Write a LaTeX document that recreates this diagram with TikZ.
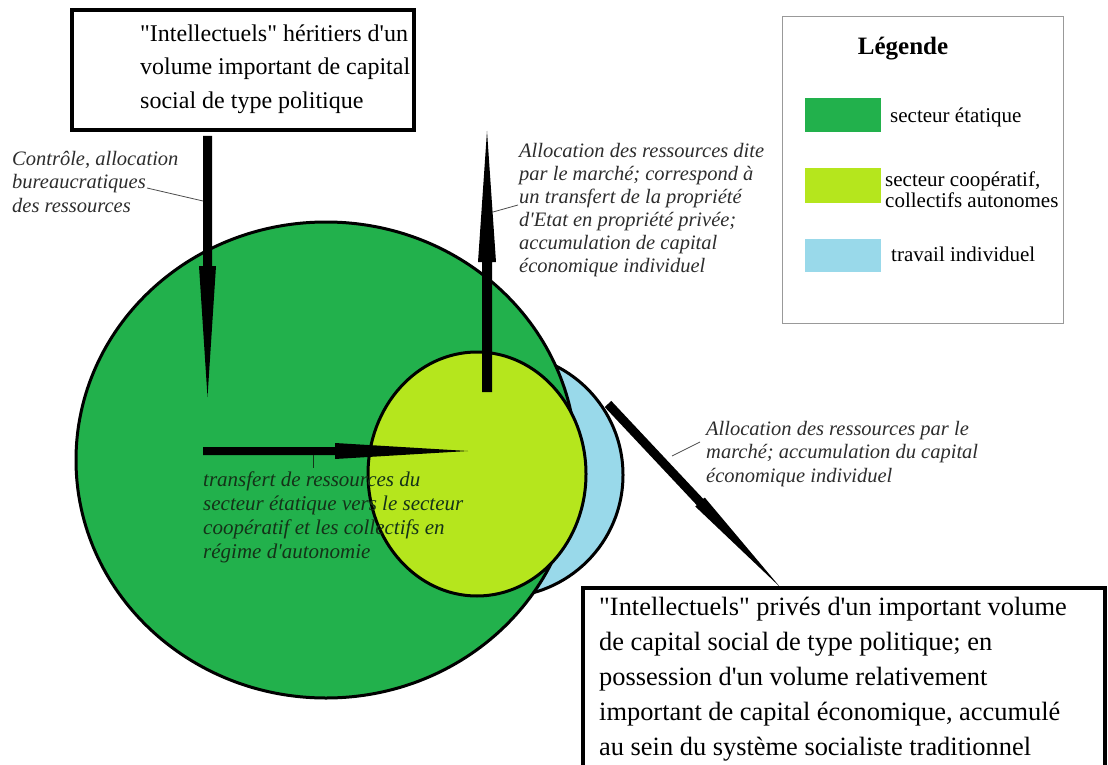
\documentclass[tikz,border=0pt]{standalone}
\usepackage{fontspec}
\setmainfont{Liberation Serif}
\usetikzlibrary{calc}
\definecolor{etat}{RGB}{34,177,76}
\definecolor{coop}{RGB}{181,230,29}
\definecolor{indiv}{RGB}{153,217,234}
\definecolor{labelgray}{RGB}{45,45,45}
\definecolor{darklabel}{RGB}{20,50,24}
\newcommand\ap{\textquotesingle}
\newcommand\qd{\textquotedbl}
\newcommand\paintarrow[5]{%
  \fill ($(#1)!#4!90:(#3)$) -- ($(#2)!#4!90:(#3)$) -- ($(#2)!#5!90:(#3)$) -- (#3)
     -- ($(#2)!#5!-90:(#3)$) -- ($(#2)!#4!-90:(#3)$) -- ($(#1)!#4!-90:(#3)$) -- cycle;}
\tikzset{
  sector/.style={draw=black, line width=3pt},
  framebox/.style={draw=black, line width=4pt, inner sep=0pt, anchor=north west},
  swatch/.style={inner sep=0pt, anchor=north west, minimum width=76pt},
  leader/.style={draw=gray!60!black, line width=0.8pt},
  note/.style={font=\fontsize{20.5}{23.5}\selectfont\itshape, text=labelgray, align=left, anchor=north west, inner sep=0pt},
  legendtext/.style={font=\fontsize{21}{21}\selectfont, inner sep=0pt},
}
\begin{document}
\begin{tikzpicture}[x=1pt,y=-1pt]
\useasboundingbox (0,0) rectangle (1108,765);
\fill[white] (0,0) rectangle (1108,765);

% sectors
\path[sector, fill=indiv] (501,475) circle [radius=122pt];
\path[sector, fill=etat] (326,460) ellipse [x radius=250pt, y radius=238pt];
\path[sector, fill=coop] (477,474) ellipse [x radius=109pt, y radius=122pt];

% top box
\node (topbox) [framebox, minimum width=342pt, minimum height=120pt] at (70,8) {};
\node (toptext) [anchor=north west, inner sep=0pt, align=left, font=\fontsize{24}{33.5}\selectfont]
  at (140,24.5) {\qd Intellectuels\qd{} héritiers d\ap{}un\\volume important de capital\\social de type politique};

% bottom box
\draw[line width=4pt] (583,768) -- (583,588) -- (1105,588) -- (1105,768);
\coordinate (botbox) at (583,588);
\node (bottext) [anchor=north west, inner sep=0pt, align=left, font=\fontsize{26.4}{35}\selectfont]
  at (599,596.5) {\qd Intellectuels\qd{} privés d\ap{}un important volume\\de capital social de type politique; en\\possession d\ap{}un volume relativement\\important de capital économique, accumulé\\au sein du système socialiste traditionnel};

% legend
\node (legbox) [draw=gray!80, line width=1.2pt, inner sep=0pt, anchor=north west, minimum width=281pt, minimum height=307pt] at (782,16) {};
\node (legtitle) [anchor=base, inner sep=0pt, font=\fontsize{25}{30}\selectfont\bfseries] at (903,55) {Légende};
\node (swetat) [swatch, fill=etat, minimum height=34pt] at (805,98) {};
\node (lbletat) [legendtext, anchor=base west] at (890,123) {secteur étatique};
\node (swcoop) [swatch, fill=coop, minimum height=35pt] at (805,168) {};
\node (lblcoop) [legendtext, anchor=north west, align=left, font=\fontsize{21}{21}\selectfont] at (885,171.7) {secteur coopératif,\\collectifs autonomes};
\node (swindiv) [swatch, fill=indiv, minimum height=33pt] at (805,239) {};
\node (lblindiv) [legendtext, anchor=base west] at (891,261) {travail individuel};

% arrows
\coordinate (dS) at (207.5,136);
\coordinate (dH) at (207.5,266);
\coordinate (dT) at (207.5,397);
\paintarrow{dS}{dH}{dT}{4.5pt}{8.5pt}
\coordinate (uS) at (487,392);
\coordinate (uH) at (487,262);
\coordinate (uT) at (487,131);
\paintarrow{uS}{uH}{uT}{5pt}{9pt}
\coordinate (hS) at (203,451);
\coordinate (hH) at (335,451);
\coordinate (hT) at (468,451);
\paintarrow{hS}{hH}{hT}{4pt}{8pt}
\coordinate (gS) at (608,404);
\coordinate (gH) at (700,502);
\coordinate (gT) at (780,587);
\paintarrow{gS}{gH}{gT}{4.5pt}{6.5pt}

% notes
\node (ctrlnote) [note] at (12,151) {Contrôle, allocation\\bureaucratiques\\des ressources};
\coordinate (ctrlA) at (147,188);
\coordinate (ctrlB) at (203,201);
\draw[leader] (ctrlA) -- (ctrlB);

\node (marketnote) [note, font=\fontsize{20.5}{23}\selectfont\itshape] at (519,143) {Allocation des ressources dite\\par le marché; correspond à\\un transfert de la propriété\\d\ap{}Etat en propriété privée;\\accumulation de capital\\économique individuel};
\coordinate (mktA) at (493,212);
\coordinate (mktB) at (518,205);
\draw[leader] (mktA) -- (mktB);

\node (indivnote) [note] at (706,421) {Allocation des ressources par le\\marché; accumulation du capital\\économique individuel};
\coordinate (indA) at (672,456);
\coordinate (indB) at (700,442);
\draw[leader] (indA) -- (indB);

\node (transnote) [note, text=darklabel, font=\fontsize{21}{24}\selectfont\itshape] at (203,471.7) {transfert de ressources du\\secteur étatique vers le secteur\\coopératif et les collectifs en\\régime d\ap{}autonomie};
\coordinate (trA) at (313,455);
\coordinate (trB) at (313,468);
\draw[leader, draw=darklabel] (trA) -- (trB);
\end{tikzpicture}
\end{document}
